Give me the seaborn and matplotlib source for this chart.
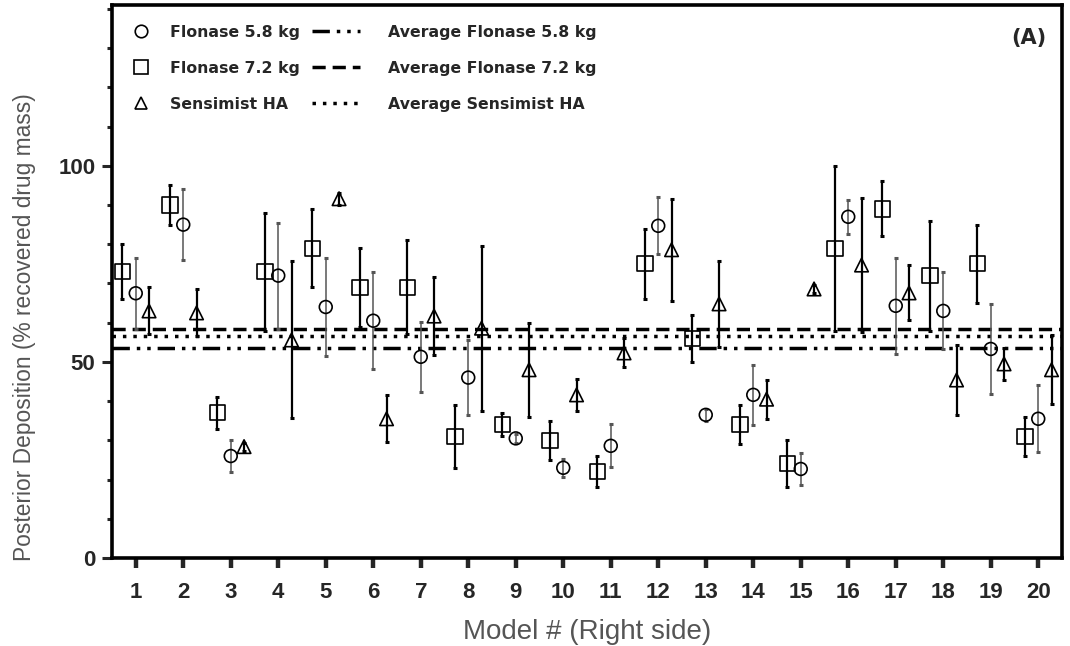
import matplotlib
matplotlib.use('Agg');
import matplotlib.pyplot as plt;
import numpy as np;
import pandas as pd;
import seaborn as sns;
from matplotlib.lines import Line2D;
from matplotlib.ticker import MultipleLocator;

models = list(range(1, 21));

flonase58_mean = [67.5, 85, 26, 72, 64, 60.5, 51.3, 46, 30.5, 23, 28.6, 84.7, 36.5, 41.6, 22.7, 87, 64.3, 63, 53.3, 35.5];
flonase58_sd = [9, 9, 4, 13.5, 12.5, 12.3, 9, 9.5, 1.2, 2.3, 5.5, 7.3, 1.5, 7.7, 4, 4.3, 12.3, 9.8, 11.4, 8.5];

flonase72_mean = [73, 90, 37, 73, 79, 69, 69, 31, 34, 30, 22, 75, 56, 34, 24, 79, 89, 72, 75, 31];
flonase72_sd = [7, 5, 4, 15, 10, 10, 12, 8, 3, 5, 4, 9, 6, 5, 6, 21, 7, 14, 10, 5];

sensimist_mean = [63, 62.5, 28.4, 55.6, 91.6, 35.5, 61.7, 58.6, 48, 41.6, 52.3, 78.6, 64.8, 40.5, 68.6, 74.7, 67.6, 45.4, 49.5, 48];
sensimist_sd = [6, 6, 1, 20, 1.5, 6, 10, 21, 12, 4, 3.7, 13, 11, 5, 1, 17, 7, 9, 4, 8.8];

average_58 = 53.6;
average_72 = 58.4;
average_sensimist = 56.6;

series_names = ['Flonase 5.8 kg', 'Flonase 7.2 kg', 'Sensimist HA'];
average_names = ['Average Flonase 5.8 kg', 'Average Flonase 7.2 kg', 'Average Sensimist HA'];

sns.set_style('ticks');
plt.rcParams['font.family'] = ['Liberation Sans', 'DejaVu Sans'];

fig = plt.figure(figsize=(10.7, 6.46), dpi=100);
ax = fig.add_axes([112 / 1070, 1 - 558 / 646, 950 / 1070, 553 / 646]);

series = [
    {'name': series_names[1], 'mean': flonase72_mean, 'sd': flonase72_sd, 'offset': -0.28, 'marker': 's', 's': 120, 'ecolor': 'black', 'elw': 1.6},
    {'name': series_names[0], 'mean': flonase58_mean, 'sd': flonase58_sd, 'offset': 0.0, 'marker': 'o', 's': 85, 'ecolor': '#555555', 'elw': 1.1},
    {'name': series_names[2], 'mean': sensimist_mean, 'sd': sensimist_sd, 'offset': 0.28, 'marker': '^', 's': 95, 'ecolor': 'black', 'elw': 1.6},
];

for item in series:
    frame = pd.DataFrame({
        'model': np.array(models) + item['offset'],
        'value': item['mean'],
        'sd': item['sd'],
    });
    ax.errorbar(
        frame['model'], frame['value'], yerr=frame['sd'],
        fmt='none', ecolor=item['ecolor'], elinewidth=item['elw'],
        capsize=1.5, capthick=2.2, zorder=2,
    );
    sns.scatterplot(
        data=frame, x='model', y='value', ax=ax,
        marker=item['marker'], s=item['s'],
        facecolors='none', edgecolor='black', linewidth=1.2, zorder=3,
    );

style_58 = (0, (5, 2, 1, 2, 1, 2));
style_72 = (0, (3.8, 2.0));
style_sens = (0, (1, 2));

ax.axhline(average_72, color='black', lw=2.5, linestyle=style_72, zorder=1);
ax.axhline(average_sensimist, color='black', lw=2.5, linestyle=style_sens, zorder=1);
ax.axhline(average_58, color='black', lw=2.5, linestyle=style_58, zorder=1);

ax.set_xlim(0.5, 20.5);
ax.set_ylim(0, 141);
ax.set_xticks(models);
ax.set_xticklabels([str(m) for m in models]);
ax.set_yticks([0, 50, 100]);
ax.yaxis.set_minor_locator(MultipleLocator(10));

for spine in ax.spines.values():
    spine.set_linewidth(2.6);
    spine.set_color('black');

ax.tick_params(axis='x', which='major', length=7, width=3.2, labelsize=16, pad=10);
ax.tick_params(axis='y', which='major', length=7, width=2.2, labelsize=16, pad=5);
ax.tick_params(axis='y', which='minor', length=3.6, width=2.2);
for label in ax.get_xticklabels() + ax.get_yticklabels():
    label.set_fontweight('bold');

ax.set_xlabel('Model # (Right side)', fontsize=20, color='#555555', labelpad=12);
ax.set_ylabel('Posterior Deposition (% recovered drug mass)', fontsize=16.4, color='#555555');
ax.yaxis.set_label_coords(-0.080, 0.418);

ax.text(0.984, 0.94, '(A)', transform=ax.transAxes, ha='right', va='center',
        fontsize=15, fontweight='bold', family=['DejaVu Sans']);

legend_font = {'family': 'DejaVu Sans', 'weight': 'bold', 'size': 11.3};

marker_handles = [
    Line2D([], [], marker='o', linestyle='none', markersize=9, markerfacecolor='none', markeredgecolor='black', markeredgewidth=1.2),
    Line2D([], [], marker='s', linestyle='none', markersize=10, markerfacecolor='none', markeredgecolor='black', markeredgewidth=1.2),
    Line2D([], [], marker='^', linestyle='none', markersize=9, markerfacecolor='none', markeredgecolor='black', markeredgewidth=1.2),
];
legend1 = ax.legend(
    marker_handles, series_names, loc='upper left', bbox_to_anchor=(0.014, 0.9647),
    frameon=False, prop=legend_font, handlelength=2, handletextpad=0.85,
    labelspacing=1.34, borderpad=0, borderaxespad=0,
);
ax.add_artist(legend1);

line_handles = [
    Line2D([], [], color='black', lw=2.5, linestyle=style_58),
    Line2D([], [], color='black', lw=2.5, linestyle=style_72),
    Line2D([], [], color='black', lw=2.5, linestyle=style_sens),
];
ax.legend(
    line_handles, average_names, loc='upper left', bbox_to_anchor=(0.2105, 0.9647),
    frameon=False, prop=legend_font, handlelength=3.06, handletextpad=1.78,
    labelspacing=1.34, borderpad=0, borderaxespad=0,
);

fig.savefig('out.png', dpi=100);
